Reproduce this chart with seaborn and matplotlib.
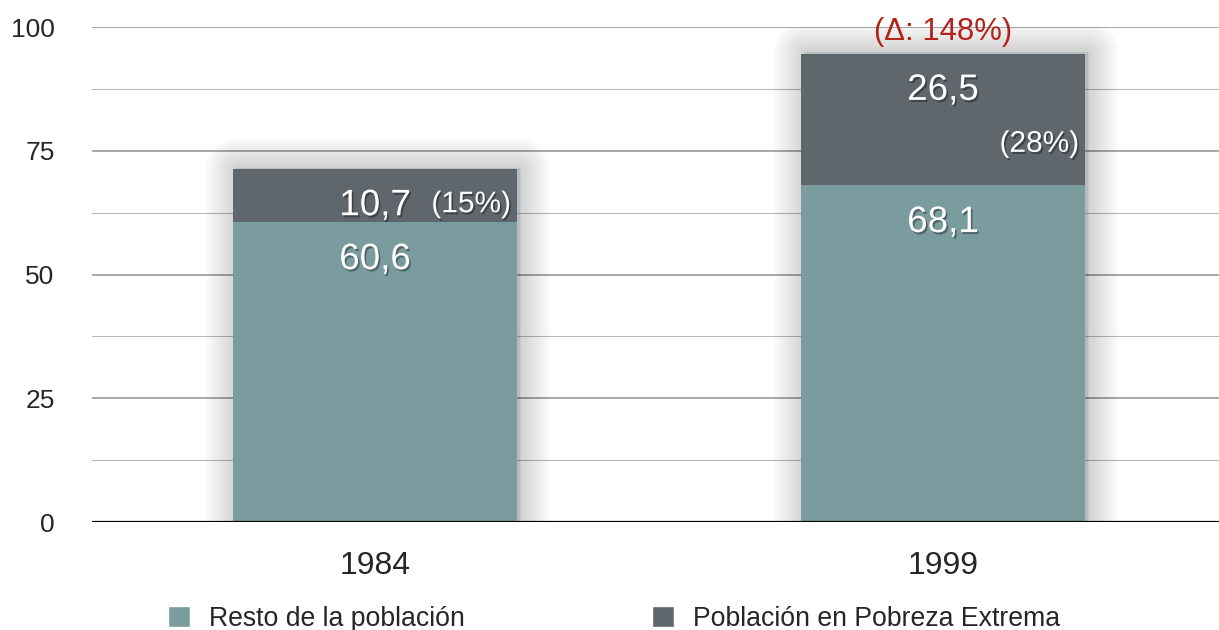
import matplotlib
matplotlib.use("Agg")
import matplotlib.pyplot as plt
import matplotlib.patheffects as pe
from matplotlib.patches import Patch
import pandas as pd
import seaborn as sns

# ---- data ----
years = ['1984', '1999']
resto = [60.6, 68.1]
pobreza = [10.7, 26.5]
pobreza_share = ['(15%)', '(28%)']
share_drop = [7.1, 18.2]      # how far below the bar top the share label sits
delta_label = '(Δ: 148%)'
legend_labels = ['Resto de la población', 'Población en Pobreza Extrema']

color_resto = '#7a9c9f'
color_pobreza = '#5f666c'
color_delta = '#b4231a'

sns.set_style('white')
plt.rcParams['font.family'] = ['Liberation Sans', 'DejaVu Sans']

df = pd.DataFrame({'year': years, 'resto': resto, 'pobreza': pobreza})
df['total'] = df['resto'] + df['pobreza']

fig = plt.figure(figsize=(12.19, 6.3), dpi=100)
ax = fig.add_axes([0.0755, 0.1714, 0.9245, 0.7857])

# stacked bars: full height in dark gray, lower part in teal on top
sns.barplot(data=df, x='year', y='total', color=color_pobreza, width=0.5,
            saturation=1, linewidth=0, ax=ax, zorder=3)
n = len(ax.patches)
sns.barplot(data=df, x='year', y='resto', color=color_resto, width=0.5,
            saturation=1, linewidth=0, ax=ax, zorder=4)

# soft drop shadow, pushed a little to the right and up
shadow = [pe.Stroke(offset=(2.5, 1), linewidth=w, foreground='black',
                    alpha=0.016, joinstyle='round')
          for w in range(44, 2, -4)]
shadow.append(pe.Normal())
for p in ax.patches[:n]:
    p.set_path_effects(shadow)

ax.set_ylim(0, 100)
ax.set_xlim(-0.498, 1.486)
ax.set_yticks([0, 25, 50, 75, 100])
ax.set_yticks([12.5, 37.5, 62.5, 87.5], minor=True)
ax.set_axisbelow(True)
ax.grid(axis='y', which='major', color='#a8a8a8', lw=1.4)
ax.grid(axis='y', which='minor', color='#b8b8b8', lw=0.8)
ax.axhline(0, color='black', lw=1.6, zorder=6)
sns.despine(ax=ax, left=True, bottom=True)
ax.tick_params(axis='y', which='both', length=0, labelsize=19, pad=27)
ax.tick_params(axis='x', length=0, labelsize=23, pad=21)
ax.set_xlabel('')
ax.set_ylabel('')

txt_shadow = [pe.withSimplePatchShadow(offset=(1.2, -1.5), shadow_rgbFace='black', alpha=0.35)]

def fmt(v):
    return f'{v:.1f}'.replace('.', ',')

for i in range(len(years)):
    top = df['total'][i]
    ax.text(i, resto[i] - 7.6, fmt(resto[i]), ha='center', va='center',
            color='white', fontsize=26.5, zorder=7, path_effects=txt_shadow)
    ax.text(i, top - 7.4, fmt(pobreza[i]), ha='center', va='center',
            color='white', fontsize=26.5, zorder=7, path_effects=txt_shadow)
    ax.text(i + 0.24, top - share_drop[i], pobreza_share[i], ha='right', va='center',
            color='white', fontsize=21.5, zorder=7, path_effects=txt_shadow)

ax.text(1, df['total'][1] + 4.4, delta_label, ha='center', va='center',
        color=color_delta, fontsize=22.3, zorder=7, clip_on=False)

handles = [Patch(facecolor=color_resto), Patch(facecolor=color_pobreza)]
fig.legend(handles, legend_labels, loc='center left',
           bbox_to_anchor=(168 / 1219, 1 - 619 / 630), ncol=2, frameon=False,
           fontsize=19.2, handlelength=0.84, handleheight=0.84, handletextpad=0.7,
           columnspacing=7.0, borderpad=0, borderaxespad=0)

fig.savefig('out.png', dpi=100)
